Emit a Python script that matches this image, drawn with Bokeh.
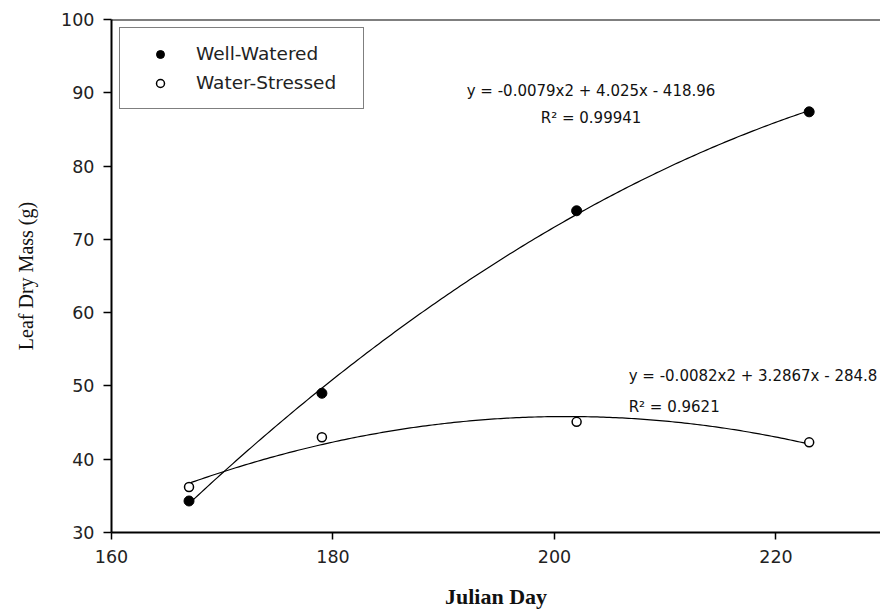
import numpy as np
from bokeh.plotting import figure
from bokeh.models import Range1d, Legend, LegendItem, Span, Label, FixedTicker
from bokeh.embed import file_html
from bokeh.resources import INLINE

# Leaf dry mass (g) by Julian day for the two irrigation treatments
days = [167, 179, 202, 223]
well_watered = [34.3, 49.0, 73.9, 87.4]
water_stressed = [36.2, 43.0, 45.1, 42.3]

x_ticks = [160, 180, 200, 220]
y_ticks = [30, 40, 50, 60, 70, 80, 90, 100]

ww_equation = "y = -0.0079x2 + 4.025x - 418.96"
ww_r2 = "R\u00b2 = 0.99941"
ws_equation = "y = -0.0082x2 + 3.2867x - 284.8"
ws_r2 = "R\u00b2 = 0.9621"

p = figure(width=880, height=615, output_backend="svg", toolbar_location=None,
           x_range=Range1d(160, 229.44), y_range=Range1d(30, 100),
           min_border_left=111, min_border_top=19, min_border_right=0,
           min_border_bottom=83, background_fill_color="white")
p.grid.visible = False
p.outline_line_color = None

# top frame line (the right side runs off the page)
p.add_layout(Span(location=100, dimension="width", line_color="black", line_width=2))

sans = "DejaVu Sans"
for ax in (p.xaxis, p.yaxis):
    ax.axis_line_width = 2
    ax.axis_line_color = "black"
    ax.major_tick_line_color = "black"
    ax.major_tick_line_width = 1.5
    ax.major_tick_in = 0
    ax.minor_tick_line_color = None
    ax.major_label_text_font = sans
    ax.major_label_text_font_size = "17.5px"
    ax.major_label_text_color = "#222222"
    ax.axis_label_text_font = "Liberation Serif"
    ax.axis_label_text_color = "#111111"

p.xaxis.ticker = FixedTicker(ticks=x_ticks)
p.yaxis.ticker = FixedTicker(ticks=y_ticks)
p.xaxis.major_tick_out = 7
p.yaxis.major_tick_out = 8
p.xaxis.major_label_standoff = 10
p.yaxis.major_label_standoff = 9
p.xaxis.axis_label = "Julian Day"
p.yaxis.axis_label = "Leaf Dry Mass (g)"
p.xaxis.axis_label_text_font_size = "22px"
p.xaxis.axis_label_text_font_style = "bold"
p.yaxis.axis_label_text_font_size = "20px"
p.yaxis.axis_label_text_font_style = "normal"
p.xaxis.axis_label_standoff = 18
p.yaxis.axis_label_standoff = 21

# quadratic trend lines fitted to each treatment
grid_x = np.linspace(min(days), max(days), 200)
ww_fit = np.polyval(np.polyfit(days, well_watered, 2), grid_x)
ws_fit = np.polyval(np.polyfit(days, water_stressed, 2), grid_x)
p.line(grid_x, ww_fit, line_color="black", line_width=1.2)
p.line(grid_x, ws_fit, line_color="black", line_width=1.2)

r_ww = p.scatter(days, well_watered, marker="circle", size=10,
                 fill_color="black", line_color="black", line_width=1)
r_ws = p.scatter(days, water_stressed, marker="circle", size=9,
                 fill_color="white", line_color="black", line_width=1.5)

eq_size = "15px"
p.add_layout(Label(x=203.3, y=90.3, text=ww_equation, text_align="center",
                   text_baseline="middle", text_font=sans, text_font_size=eq_size,
                   text_color="#111111"))
p.add_layout(Label(x=203.3, y=86.5, text=ww_r2, text_align="center",
                   text_baseline="middle", text_font=sans, text_font_size=eq_size,
                   text_color="#111111"))
p.add_layout(Label(x=206.7, y=51.4, text=ws_equation, text_align="left",
                   text_baseline="middle", text_font=sans, text_font_size=eq_size,
                   text_color="#111111"))
p.add_layout(Label(x=206.7, y=47.1, text=ws_r2, text_align="left",
                   text_baseline="middle", text_font=sans, text_font_size=eq_size,
                   text_color="#111111"))

legend = Legend(items=[LegendItem(label="Well-Watered", renderers=[r_ww]),
                       LegendItem(label="Water-Stressed", renderers=[r_ws])],
                location="top_left", margin=8, padding=15, spacing=8,
                glyph_width=50, glyph_height=20, label_height=20, label_width=152,
                label_standoff=11, label_text_font=sans,
                label_text_font_size="18.5px", label_text_color="#222222",
                border_line_color="black", border_line_width=1.5,
                background_fill_color="white", background_fill_alpha=1)
p.add_layout(legend)

open("out.html", "w").write(file_html(p, INLINE))
